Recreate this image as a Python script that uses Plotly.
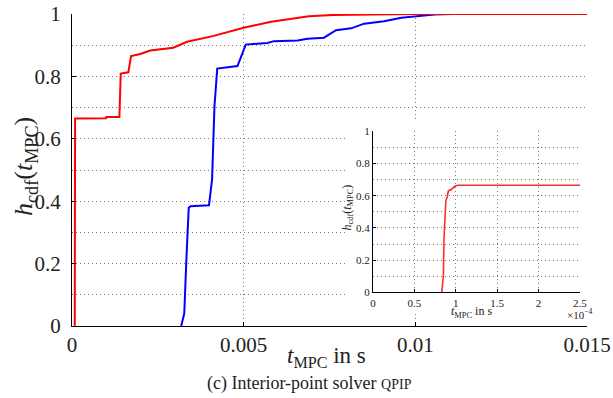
import plotly.graph_objects as go

# ---- data ----
red_t = [0.00008, 0.00008, 0.00009, 0.00099, 0.00100, 0.00138, 0.00142, 0.00164, 0.00172,
         0.00199, 0.00228, 0.00295, 0.00335, 0.0041, 0.0050, 0.0058, 0.0062, 0.0069,
         0.0076, 0.0090, 0.0100, 0.0150]
red_h = [0.0, 0.30, 0.665, 0.666, 0.670, 0.670, 0.809, 0.813, 0.865,
         0.872, 0.883, 0.892, 0.911, 0.929, 0.956, 0.975, 0.982, 0.993,
         0.997, 0.999, 1.0, 1.0]

blue_t = [0.00318, 0.00327, 0.00333, 0.00340, 0.00345, 0.00399, 0.00408, 0.00415, 0.00423,
          0.00482, 0.00506, 0.00569, 0.00588, 0.00657, 0.00686, 0.00734, 0.00769, 0.00813,
          0.00851, 0.00909, 0.00959, 0.01003, 0.01056, 0.01105, 0.0150]
blue_h = [0.0, 0.04, 0.21, 0.379, 0.384, 0.387, 0.47, 0.705, 0.825,
          0.833, 0.902, 0.907, 0.913, 0.915, 0.921, 0.924, 0.948, 0.954,
          0.969, 0.977, 0.988, 0.993, 0.998, 1.0, 1.0]

inset_t = [0.83, 0.85, 0.857, 0.87, 0.88, 0.897, 0.91, 0.95, 0.99, 1.03, 2.5]  # x 1e-4 s
inset_h = [0.0, 0.103, 0.33, 0.518, 0.57, 0.594, 0.63, 0.64, 0.66, 0.665, 0.665]

main_xticks = [0, 0.005, 0.01, 0.015]
main_yticks = [0, 0.2, 0.4, 0.6, 0.8, 1]
inset_xticks = [0, 0.5, 1, 1.5, 2, 2.5]

FONT = "Liberation Serif"
GRID = "#777777"
DOT = "1px,3px"

fig = go.Figure()

fig.add_trace(go.Scatter(x=blue_t, y=blue_h, mode="lines",
                         line=dict(color="#0000ff", width=2), showlegend=False,
                         hoverinfo="skip"))
fig.add_trace(go.Scatter(x=red_t, y=red_h, mode="lines",
                         line=dict(color="#ff0000", width=2), showlegend=False,
                         hoverinfo="skip"))
# invisible cover subplot (white background hiding main grid behind inset)
fig.add_trace(go.Scatter(x=[0], y=[0], xaxis="x2", yaxis="y2", mode="markers",
                         marker=dict(opacity=0), showlegend=False, hoverinfo="skip"))
# inset
fig.add_trace(go.Scatter(x=inset_t, y=inset_h, xaxis="x3", yaxis="y3", mode="lines",
                         line=dict(color="#ff2a2a", width=1.6), showlegend=False,
                         hoverinfo="skip"))

axis_common = dict(showline=True, linecolor="black", linewidth=1, ticks="inside",
                   tickcolor="black", zeroline=False, showgrid=True, automargin=False,
                   gridcolor=GRID, griddash=DOT, gridwidth=1)

fig.update_layout(
    template="none",
    width=613, height=398,
    margin=dict(l=72, r=26, t=14, b=71.5, autoexpand=False),
    paper_bgcolor="white", plot_bgcolor="white",
    font=dict(family=FONT, color="#222222"),
    xaxis=dict(domain=[0, 1], range=[0, 0.015], tickvals=main_xticks,
               ticklen=4, tickfont=dict(size=21, family=FONT), **axis_common),
    yaxis=dict(domain=[0, 1], range=[0, 1], tickvals=main_yticks,
               ticklen=4, tickfont=dict(size=21, family=FONT), ticklabelstandoff=6,
               minor=dict(dtick=0.1, showgrid=True, gridcolor=GRID, griddash=DOT,
                          gridwidth=1, ticks=""),
               **axis_common),
    xaxis2=dict(domain=[0.530, 1.0], range=[0, 1], visible=False, anchor="y2"),
    yaxis2=dict(domain=[0.04, 0.655], range=[0, 1], visible=False, anchor="x2"),
    xaxis3=dict(domain=[0.5845, 0.9864], range=[0, 2.5], tickvals=inset_xticks,
                anchor="y3", ticklen=3, tickfont=dict(size=11, family=FONT),
                **axis_common),
    yaxis3=dict(domain=[0.1077, 0.624], range=[0, 1], tickvals=main_yticks,
                anchor="x3", ticklen=3, tickfont=dict(size=11, family=FONT),
                minor=dict(dtick=0.1, showgrid=True, gridcolor=GRID, griddash=DOT,
                           gridwidth=1, ticks=""),
                **axis_common),
)

ann = [
    dict(text="<i>h</i><sub>cdf</sub>(<i>t</i><sub>MPC</sub>)", x=-0.091, y=0.51,
         textangle=-90, font=dict(size=26)),
    dict(text="<i>t</i><sub>MPC</sub> in s", x=0.495, y=-0.098, font=dict(size=23)),
    dict(text="(c) Interior-point solver <span style='font-size:14px'>QPIP</span>",
         x=0.462, y=-0.184, font=dict(size=18)),
    dict(text="<i>t</i><sub>MPC</sub> in s", x=0.775, y=0.046, font=dict(size=12)),
    dict(text="<i>h</i><sub>cdf</sub>(<i>t</i><sub>MPC</sub>)", x=0.536, y=0.38,
         textangle=-90, font=dict(size=12)),
    dict(text="×10<sup>−4</sup>", x=0.986, y=0.040, font=dict(size=11)),
]
for a in ann:
    a.update(xref="paper", yref="paper", showarrow=False,
             xanchor="center", yanchor="middle")
    a["font"].update(family=FONT, color="#222222")
fig.update_layout(annotations=ann)

fig.write_html("out.html",
               config={"displayModeBar": False},
               post_script="document.body.style.margin='0';"
                           "document.body.style.overflow='hidden';")
